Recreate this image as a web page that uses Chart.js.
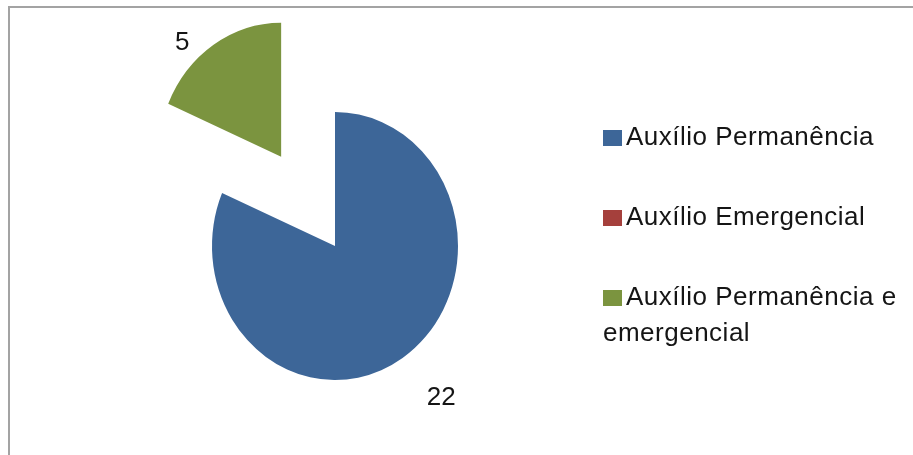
<!DOCTYPE html>
<html lang="pt">
<head>
<meta charset="utf-8">
<title>Auxílios</title>
<script src="https://cdn.jsdelivr.net/npm/chart.js@4"></script>
<style>
    html, body { margin: 0; padding: 0; background: #fff; }
    #frame {
        position: relative;
        width: 913px;
        height: 455px;
        overflow: hidden;
        font-family: "Liberation Sans", Arial, sans-serif;
    }
    #frame .edge {
        position: absolute;
        left: 8px;
        top: 6px;
        width: 940px;
        height: 480px;
        border-top: 2px solid #a3a3a3;
        border-left: 2px solid #a3a3a3;
    }
    #pie { position: absolute; left: 0; top: 0; }
    #legend {
        position: absolute;
        left: 603px;
        top: 118px;
        width: 305px;
        font-size: 26px;
        letter-spacing: 0.5px;
        line-height: 36px;
        color: #151515;
    }
    #legend .item { margin-bottom: 44px; }
    #legend .swatch {
        display: inline-block;
        width: 19px;
        height: 16px;
        margin-right: 4px;
        vertical-align: -1px;
    }
</style>
</head>
<body>
<div id="frame">
    <div class="edge"></div>
    <canvas id="pie" width="913" height="455"></canvas>
    <div id="legend"></div>
</div>

<script>
const categories = ["Auxílio Permanência", "Auxílio Emergencial", "Auxílio Permanência e emergencial"];
const values = [22, 0, 5];
const sliceColors = ["#3d6698", "#a5403c", "#7b943f"];

// slice explode distance (px) and the vertical stretch of the original picture
const explode = [0, 0, 98];

const explodePie = {
    id: "explodePie",
    beforeDatasetDraw(chart, args, opts) {
        const ctx = chart.ctx;
        args.meta.data.forEach((arc, i) => {
            const push = opts.explode[i] || 0;
            const mid = (arc.startAngle + arc.endAngle) / 2;
            ctx.save();
            ctx.translate(arc.x, arc.y);
            ctx.scale(1, opts.stretchY);
            ctx.translate(Math.cos(mid) * push, Math.sin(mid) * push);
            ctx.translate(-arc.x, -arc.y);
            arc.draw(ctx, chart.chartArea);
            ctx.restore();
        });
        return false;
    },
    afterDatasetsDraw(chart, args, opts) {
        const ctx = chart.ctx;
        const meta = chart.getDatasetMeta(0);
        ctx.save();
        ctx.font = opts.font;
        ctx.fillStyle = opts.color;
        ctx.textBaseline = "middle";
        meta.data.forEach((arc, i) => {
            const v = values[i];
            if (!v) return;
            const mid = (arc.startAngle + arc.endAngle) / 2;
            const d = (opts.explode[i] || 0) + arc.outerRadius + opts.gap;
            const x = arc.x + Math.cos(mid) * d;
            let y = arc.y + Math.sin(mid) * d * opts.stretchY;
            y = Math.max(y, opts.minY);
            ctx.textAlign = Math.cos(mid) < 0 ? "right" : "left";
            ctx.fillText(String(v), x, y);
        });
        ctx.restore();
    },
};

function buildLegend() {
    const box = document.getElementById("legend");
    categories.forEach((name, i) => {
        const item = document.createElement("div");
        item.className = "item";
        const sw = document.createElement("span");
        sw.className = "swatch";
        sw.style.background = sliceColors[i];
        item.appendChild(sw);
        item.appendChild(document.createTextNode(name));
        box.appendChild(item);
    });
}

function buildPie() {
    const canvas = document.getElementById("pie");
    new Chart(canvas, {
        type: "pie",
        data: {
            labels: categories,
            datasets: [
                {
                    data: values,
                    backgroundColor: sliceColors,
                    borderWidth: 0,
                    radius: 123,
                },
            ],
        },
        options: {
            responsive: false,
            animation: false,
            events: [],
            layout: { padding: { left: 0, right: 243, top: 37, bottom: 0 } },
            plugins: {
                legend: { display: false },
                tooltip: { enabled: false },
                explodePie: {
                    explode: explode,
                    stretchY: 1.09,
                    gap: 44,
                    minY: 43,
                    font: '26px "Liberation Sans", Arial, sans-serif',
                    color: "#151515",
                },
            },
        },
        plugins: [explodePie],
    });
}

buildLegend();
buildPie();
</script>
</body>
</html>
